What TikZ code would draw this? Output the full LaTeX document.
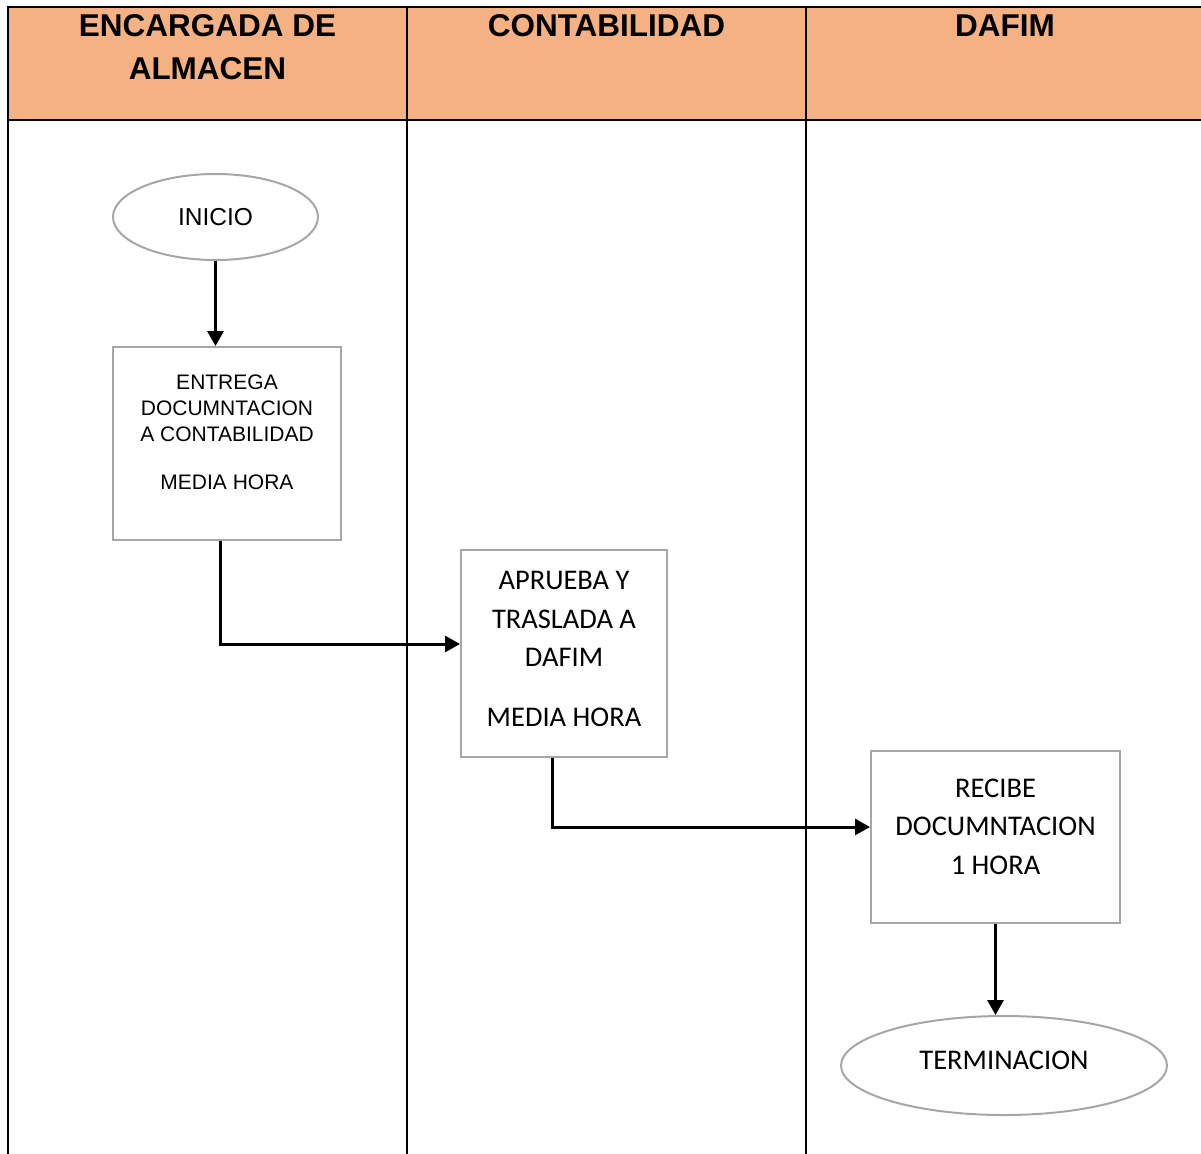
\documentclass[tikz,border=0pt]{standalone}
\usepackage{fontspec}
\setmainfont{Liberation Sans}
\newfontfamily\calfont{Carlito}
\usetikzlibrary{arrows.meta,shapes.geometric,calc}
\definecolor{hdr}{RGB}{244,177,131}
\definecolor{bgray}{RGB}{166,166,166}
\begin{document}
\begin{tikzpicture}[x=1pt,y=-1pt,
  lane/.style={line width=2.6pt, black},
  procbox/.style={draw=bgray, line width=2pt, rectangle, inner sep=0pt},
  term/.style={draw=bgray, line width=2pt, ellipse, inner sep=0pt},
  flow/.style={line width=3pt, -{Triangle[length=15pt,width=16pt]}},
  hdrtxt/.style={font=\fontsize{31.5}{43}\selectfont\bfseries, align=center, inner sep=0pt},
  arialtxt/.style={font=\fontsize{21}{26}\selectfont, align=center, inner sep=0pt},
  caltxt/.style={font=\calfont\fontsize{28.5}{38.5}\selectfont, align=center, inner sep=0pt},
  inicio/.style={font=\fontsize{24.5}{30}\selectfont},
]
\useasboundingbox (0,0) rectangle (1201,1153);
% header band
\fill[hdr] (8,7) rectangle (1215,120);
\draw[lane] (1215,7) -- (8,7) -- (8,1165);
\draw[lane] (8,120) -- (1215,120);
\draw[lane] (407,7) -- (407,1165);
\draw[lane] (806,7) -- (806,1165);
% headers
\node[hdrtxt] (h1) at (207.5,47.5) {ENCARGADA DE\\ALMACEN};
\node[hdrtxt] (h2) at (606.5,26) {CONTABILIDAD};
\node[hdrtxt] (h3) at (1005,26) {DAFIM};
% shapes
\node[term, minimum width=205pt, minimum height=86pt, inicio] (start) at (215.5,217) {INICIO};
\node[procbox, minimum width=228pt, minimum height=193pt] (b1) at (227,443.5) {};
\node[arialtxt] (t1) at ($(b1.center)+(0,-11)$) {ENTREGA\\DOCUMNTACION\\A CONTABILIDAD\\[22pt]MEDIA HORA};
\node[procbox, minimum width=206pt, minimum height=207pt] (b2) at (564,653.5) {};
\node[caltxt] (t2) at ($(b2.center)+(0,-4.5)$) {APRUEBA Y\\TRASLADA A\\DAFIM\\[21.5pt]MEDIA HORA};
\node[procbox, minimum width=249pt, minimum height=172pt] (b3) at (995.5,837) {};
\node[caltxt] (t3) at ($(b3.center)+(0,-10.5)$) {RECIBE\\DOCUMNTACION\\1 HORA};
\node[term, minimum width=326pt, minimum height=99pt, font=\calfont\fontsize{28.5}{34}\selectfont] (stop) at (1004,1065.5) {\raisebox{11pt}{TERMINACION}};
% connectors
\draw[flow] (start.south) -- (start.south |- b1.north);
\draw[flow] ([xshift=-7pt]b1.south) |- ([yshift=9.5pt]b2.west);
\draw[flow] ([xshift=-12pt]b2.south) |- ([yshift=10pt]b3.west);
\draw[flow] (b3.south) -- (b3.south |- stop.north);
\end{tikzpicture}
\end{document}
